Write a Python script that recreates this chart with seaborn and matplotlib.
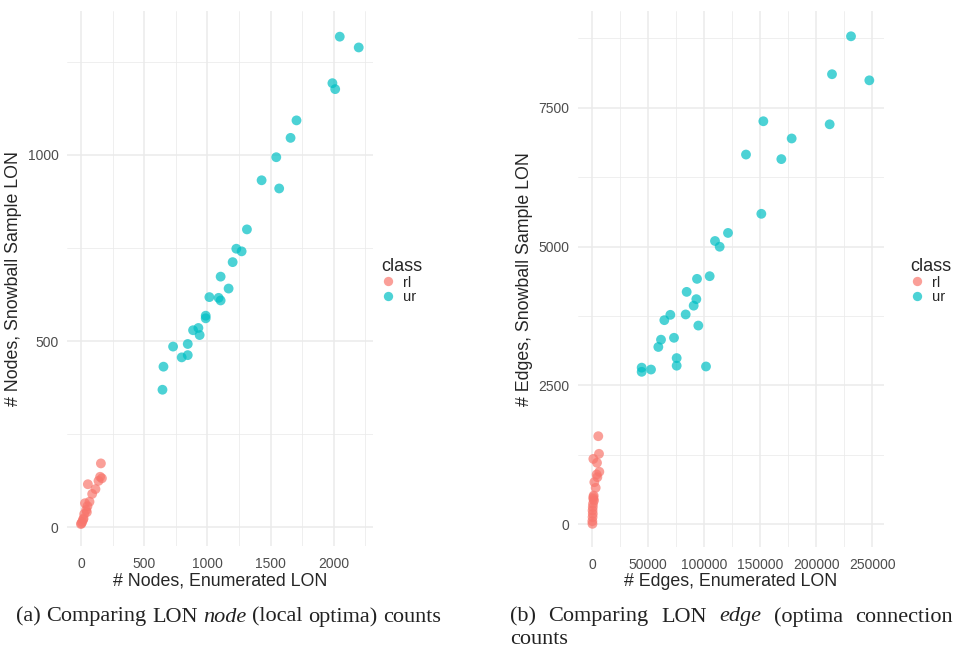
import pandas as pd
import matplotlib
matplotlib.use("Agg")
import matplotlib.pyplot as plt
import seaborn as sns

# --- data ---
node_rl_enum = [158, 55, 152, 166, 139, 115, 89, 68, 32, 52, 42, 26, 21, 10, 0, 47, 18, 5]
node_rl_snow = [171, 115, 135, 131, 124, 102, 89, 68, 64, 56, 46, 35, 23, 14, 8, 40, 20, 10]
node_ur_enum = [2047, 2197, 1989, 2011, 1705, 1658, 1545, 1429, 1568, 1313, 1229, 1271, 1200,
                1105, 1168, 1016, 1089, 1105, 987, 987, 887, 929, 939, 729, 845, 797, 845, 653, 645]
node_ur_snow = [1318, 1289, 1193, 1177, 1093, 1046, 994, 932, 910, 800, 748, 741, 712,
                673, 641, 618, 616, 609, 568, 561, 529, 535, 516, 485, 492, 456, 462, 431, 369]

edge_rl_enum = [5600, 6240, 1190, 4450, 6530, 4160, 4750, 2080, 3270, 1190, 1780, 900, 700,
                500, 700, 500, 300, 400, 1500, 1200]
edge_rl_snow = [1588, 1271, 1180, 1110, 948, 899, 851, 761, 660, 491, 432, 372, 312,
                252, 192, 132, 60, 12, 520, 460]
edge_ur_enum = [230838, 213905, 247177, 152704, 211825, 177956, 137254, 168746, 150921, 121212,
                109626, 113785, 104873, 93583, 84373, 92989, 90612, 69816, 83482, 64468,
                94771, 61497, 73084, 59121, 75461, 75461, 101604, 44266, 44266, 52585]
edge_ur_snow = [8781, 8099, 7989, 7253, 7198, 6943, 6654, 6572, 5588, 5244,
                5099, 4996, 4466, 4418, 4184, 4053, 3936, 3771, 3778, 3675,
                3578, 3324, 3358, 3193, 2993, 2856, 2842, 2821, 2746, 2787]

classes = ["rl", "ur"]
palette = {"rl": "#F8766D", "ur": "#00BFC4"}

nodes = pd.DataFrame({
    "enum": node_rl_enum + node_ur_enum,
    "snow": node_rl_snow + node_ur_snow,
    "class": ["rl"] * len(node_rl_enum) + ["ur"] * len(node_ur_enum),
})
edges = pd.DataFrame({
    "enum": edge_rl_enum + edge_ur_enum,
    "snow": edge_rl_snow + edge_ur_snow,
    "class": ["rl"] * len(edge_rl_enum) + ["ur"] * len(edge_ur_enum),
})

sns.set_style("whitegrid")
plt.rcParams["font.family"] = ["Liberation Sans", "DejaVu Sans"]

W, H = 954, 648
fig = plt.figure(figsize=(W / 100, H / 100), dpi=100)
ax1 = fig.add_axes([67 / W, 1 - 546 / H, 306 / W, 535 / H])
ax2 = fig.add_axes([578 / W, 1 - 547 / H, 306 / W, 536 / H])


def style_panel(ax, df, xlim, ylim, xmaj, xmin, ymaj, ymin, xlabel, ylabel, leg_x):
    sns.scatterplot(data=df, x="enum", y="snow", hue="class", hue_order=classes,
                    palette=palette, alpha=0.7, s=50, linewidth=0, ax=ax, legend=True, zorder=3)
    ax.set_xlim(*xlim)
    ax.set_ylim(*ylim)
    ax.set_xticks(xmaj)
    ax.set_xticks(xmin, minor=True)
    ax.set_yticks(ymaj)
    ax.set_yticks(ymin, minor=True)
    ax.grid(True, which="major", color="#EBEBEB", linewidth=1.1)
    ax.grid(True, which="minor", color="#EBEBEB", linewidth=0.55)
    for sp in ax.spines.values():
        sp.set_visible(False)
    ax.tick_params(axis="both", which="both", length=0, labelsize=10, labelcolor="#4D4D4D")
    ax.tick_params(axis="x", pad=8)
    ax.tick_params(axis="y", pad=6)
    ax.set_xlabel(xlabel, fontsize=12.8, labelpad=1)
    ax.set_ylabel(ylabel, fontsize=12.8, labelpad=4)
    handles, labels = ax.get_legend_handles_labels()
    ax.legend(handles, labels, title="class", loc="center left",
              bbox_to_anchor=(leg_x / W, 1 - 281 / H), bbox_transform=fig.transFigure,
              frameon=False, fontsize=10.5, title_fontsize=13, labelspacing=0.05,
              handlelength=1.0, handletextpad=0.5, borderaxespad=0, borderpad=0,
              alignment="left", markerscale=0.95)


style_panel(ax1, nodes, (-110, 2310), (-51, 1387),
            [0, 500, 1000, 1500, 2000], [250, 750, 1250, 1750, 2250],
            [0, 500, 1000], [250, 750, 1250],
            "# Nodes, Enumerated LON", "# Nodes, Snowball Sample LON", 381)
style_panel(ax2, edges, (-12480, 260250), (-405, 9236),
            [0, 50000, 100000, 150000, 200000, 250000],
            [25000, 75000, 125000, 175000, 225000],
            [0, 2500, 5000, 7500], [1250, 3750, 6250, 8750],
            "# Edges, Enumerated LON", "# Edges, Snowball Sample LON", 910)

# captions (serif, with italic words), laid out word by word
cap = dict(family=["Liberation Serif", "DejaVu Serif"], fontsize=16, va="center", color="#222222")
renderer = fig.canvas.get_renderer()


def word_width(word, italic):
    t = fig.text(0, 0, word, style="italic" if italic else "normal", **cap)
    w = t.get_window_extent(renderer).width
    t.remove()
    return w


def place_line(words, x0, y, x1=None, gap=None):
    widths = [word_width(w, it) for w, it in words]
    if x1 is not None:
        gap = (x1 - x0 - sum(widths)) / (len(words) - 1)
    x = x0
    for (w, it), wd in zip(words, widths):
        fig.text(x / W, 1 - y / H, w, style="italic" if it else "normal", **cap)
        x += wd + gap


space = word_width("a b", False) - word_width("ab", False)
place_line([("(a)", False), ("Comparing", False), ("LON", False), ("node", True),
            ("(local", False), ("optima)", False), ("counts", False)], 16, 617, gap=space)
place_line([("(b)", False), ("Comparing", False), ("LON", False), ("edge", True),
            ("(optima", False), ("connection", False)], 510, 617, x1=953)
place_line([("counts", False)], 510, 639, gap=space)

fig.savefig("out.png", dpi=100)
